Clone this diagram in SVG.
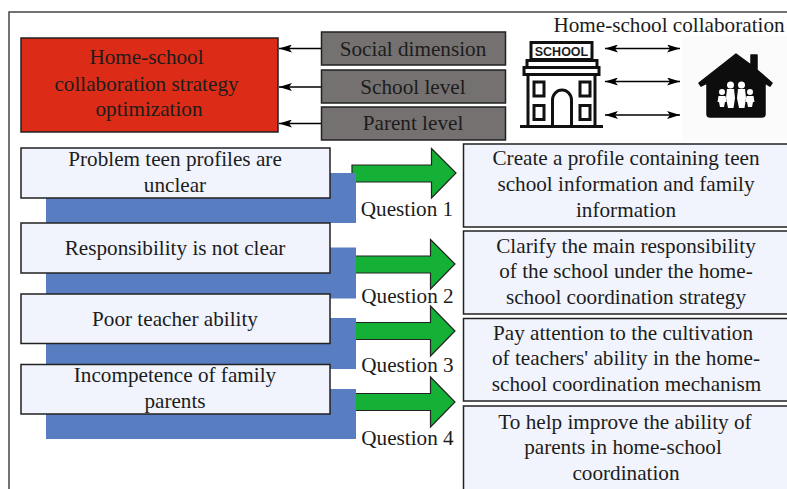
<svg xmlns="http://www.w3.org/2000/svg" width="787" height="489" viewBox="0 0 787 489">
<style>
text{font-family:"Liberation Serif","Times New Roman",serif;font-size:21.2px;fill:#1c1c1c;text-anchor:middle}
.b{fill:#f1f4fc;stroke:#222;stroke-width:1.5}
.g{fill:#757170;stroke:#222;stroke-width:1.5}
.s{fill:#587dc1}
.a{fill:#14b136;stroke:#222;stroke-width:1.2}
.l{stroke:#000;stroke-width:1.3;fill:none}
.i{fill:none;stroke:#111;stroke-width:3}
</style>
<defs>
<marker id="h" markerWidth="14" markerHeight="8" refX="13" refY="4" orient="auto-start-reverse" markerUnits="userSpaceOnUse"><path d="M0 0L13 4L0 8L3 4Z" fill="#000"/></marker>
</defs>
<rect width="787" height="489" fill="#fff"/>
<path id="frame" d="M9 489V12H787" fill="none" stroke="#444" stroke-width="1.5"/>
<g id="connectors">
<path class="l" d="M321 48.500H279" marker-end="url(#h)"/>
<path class="l" d="M321 87H279" marker-end="url(#h)"/>
<path class="l" d="M321 123.500H279" marker-end="url(#h)"/>
<path class="l" d="M605 48.500H680" marker-start="url(#h)" marker-end="url(#h)"/>
<path class="l" d="M605 81.500H680" marker-start="url(#h)" marker-end="url(#h)"/>
<path class="l" d="M605 115H680" marker-start="url(#h)" marker-end="url(#h)"/>
<path class="a" d="M352 182V165H431.500V148.500L456 173L431.500 198V182Z"/>
<path class="a" d="M350 273V256H430.500V239.500L455 264L430.500 289V273Z"/>
<path class="a" d="M350 339.500V322.500H430.500V306L455 331L430.500 356V339.500Z"/>
<path class="a" d="M350 410.500V393.500H430.500V377L455 402L430.500 427V410.500Z"/>
</g>
<g id="strategy"><rect x="21" y="38" width="257" height="94" fill="#dc2c17" stroke="#222" stroke-width="1.5"/>
<text x="146.500" y="64">Home-school</text><text x="146.500" y="90.500">collaboration strategy</text><text x="149" y="116">optimization</text></g>
<g id="social"><rect class="g" x="321.500" y="32" width="184" height="33"/><text x="413" y="56">Social dimension</text></g>
<g id="school-level"><rect class="g" x="321.500" y="70" width="184" height="33"/><text x="413" y="94">School level</text></g>
<g id="parent-level"><rect class="g" x="321.500" y="107" width="184" height="33"/><text x="413" y="130">Parent level</text></g>
<text id="collab-title" x="669" y="31.500">Home-school collaboration</text>
<g id="school-icon">
<rect x="531" y="42.500" width="61" height="17" fill="#fff" stroke="#111" stroke-width="3"/>
<text x="561.500" y="56" style="font-family:'Liberation Sans',sans-serif;font-weight:700;font-size:12.500px">SCHOOL</text>
<path class="i" d="M527 67V60.500H597V67"/>
<rect class="i" x="524" y="67.500" width="75" height="7"/>
<path class="i" d="M528 75V126M595 75V126"/>
<rect class="i" x="534" y="82" width="10" height="14"/><rect class="i" x="580" y="82" width="10" height="14"/>
<rect class="i" x="534" y="105.500" width="10" height="14"/><rect class="i" x="580" y="105.500" width="10" height="14"/>
<path class="i" d="M552.500 126V100A9.500 10 0 0 1 571.500 100V126"/>
<path class="i" d="M520 126.500H603"/>
</g>
<g id="family-icon">
<rect x="682" y="36" width="105" height="104" fill="#fbfbfb"/>
<path d="M699 83L736 54L751 65V55H757V70L772 83L770 86L765 83V114Q765 117 762 117H710Q707 117 707 114V83L701 86Z" fill="#0d0d0d" stroke="#0d0d0d" stroke-linejoin="round" stroke-width="1.500"/>
<g fill="#fff"><circle cx="722" cy="92" r="3"/><path d="M718.500 96H725.500L726.500 102H725L724 107H720L719 102H717.500Z"/><circle cx="730.500" cy="85" r="3.500"/><path d="M727 89H734L735 98L733.500 108H728L726 98Z"/><circle cx="741.500" cy="85" r="3.500"/><path d="M738 89H745L746 98L744.500 108H739L737 98Z"/><circle cx="750" cy="92" r="3"/><path d="M746.500 96H753.500L754.500 102H753L752 107H748L747 102H745.500Z"/></g>
</g>
<g id="problem-1"><rect class="s" x="46" y="173" width="310" height="50"/><rect class="b" x="21" y="148" width="309" height="50"/><text x="175" y="166">Problem teen profiles are</text><text x="175" y="192">unclear</text></g>
<g id="problem-2"><rect class="s" x="46" y="247.500" width="310" height="51"/><rect class="b" x="21" y="223" width="309" height="50"/><text x="175" y="255">Responsibility is not clear</text></g>
<g id="problem-3"><rect class="s" x="46" y="318" width="310" height="51"/><rect class="b" x="21" y="294" width="309" height="49.500"/><text x="175" y="326">Poor teacher ability</text></g>
<g id="problem-4"><rect class="s" x="46" y="389" width="310" height="50"/><rect class="b" x="21" y="364.500" width="309" height="49.500"/><text x="175" y="382">Incompetence of family</text><text x="175" y="408">parents</text></g>
<text x="407" y="216">Question 1</text><text x="407.500" y="303">Question 2</text><text x="407.500" y="372">Question 3</text><text x="407.500" y="445">Question 4</text>
<g id="answer-1"><rect class="b" x="463.500" y="144" width="330" height="83"/><text x="626" y="165">Create a profile containing teen</text><text x="626" y="191">school information and family</text><text x="626" y="217">information</text></g>
<g id="answer-2"><rect class="b" x="463.500" y="231" width="330" height="83"/><text x="626" y="253">Clarify the main responsibility</text><text x="626" y="278">of the school under the home-</text><text x="626" y="304">school coordination strategy</text></g>
<g id="answer-3"><rect class="b" x="463.500" y="318.500" width="330" height="82.500"/><text x="623" y="340">Pay attention to the cultivation</text><text x="626" y="365">of teachers' ability in the home-</text><text x="626.500" y="391">school coordination mechanism</text></g>
<g id="answer-4"><rect class="b" x="463.500" y="406" width="330" height="90"/><text x="625" y="429">To help improve the ability of</text><text x="623" y="454">parents in home-school</text><text x="626" y="480">coordination</text></g>
</svg>
